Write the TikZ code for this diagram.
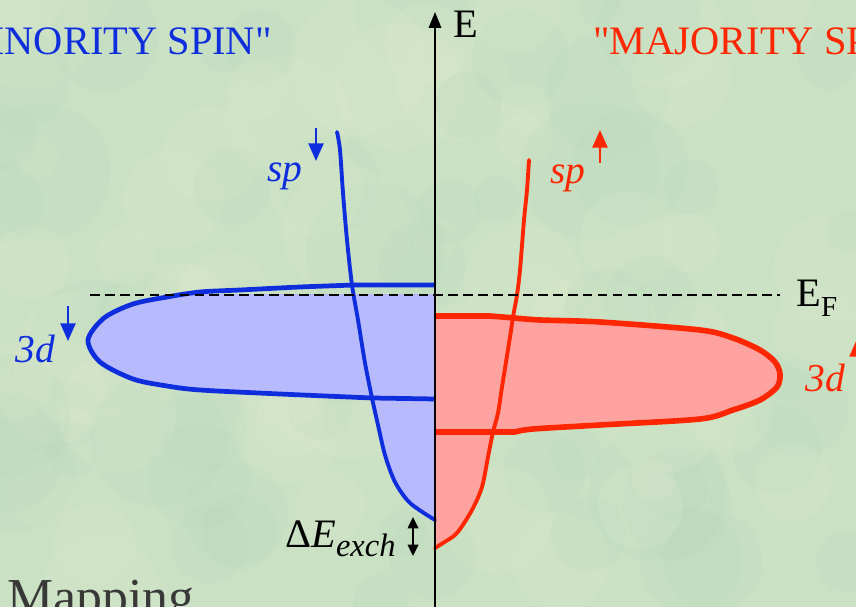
\documentclass[tikz,border=0pt]{standalone}
\usepackage{fontspec}
\setmainfont{Liberation Serif}
\usetikzlibrary{arrows.meta}

\definecolor{minblue}{RGB}{14,46,222}
\definecolor{minfill}{RGB}{184,186,255}
\definecolor{majred}{RGB}{255,38,0}
\definecolor{majfill}{RGB}{255,162,160}
\definecolor{bggreen}{RGB}{202,225,196}
\definecolor{bglight}{RGB}{226,236,206}
\definecolor{bgdark}{RGB}{178,214,188}

\begin{document}
\begin{tikzpicture}[x=0.02cm, y=-0.02cm,
    bandline/.style={line width=2.7pt, line join=round},
    spline/.style={line width=2.2pt, line cap=round, line join=round},
    spinarrow/.style={line width=1.3pt, -{Triangle[length=10pt,width=8.5pt]}},
    axisline/.style={line width=1.1pt, -{Triangle[length=9pt,width=7pt]}},
    fermi/.style={line width=1.1pt, dash pattern=on 5.5pt off 3pt},
    bigtext/.style={font=\fontsize{23}{27}\selectfont, inner sep=0pt},
    italtext/.style={font=\fontsize{22.5}{27}\selectfont\itshape, inner sep=0pt}]
        \useasboundingbox (0,0) rectangle (856,607);
        \clip (0,0) rectangle (856,607);

        % background
        \fill[bggreen] (0,0) rectangle (856,607);
        \pgfmathsetseed{11}
        \foreach \i in {1,...,60} {
            \fill[bglight, opacity=0.18] (856*rnd, 607*rnd) circle (20+50*rnd);
            \fill[bgdark, opacity=0.15] (856*rnd, 607*rnd) circle (20+50*rnd);
        }

        % occupied minority states (below E_F)
        \begin{scope}
            \clip (0,295) rectangle (435,607);
            \fill[minfill] (435,285) -- plot[smooth] coordinates {(355,285) (300,287) (240,290) (200,292) (167,297) (133,304) (104,318) (88,340) (100,362) (133,379) (167,386) (200,390) (280,394) (372,398)} -- (435,399) -- cycle;
            \fill[minfill] (435,398) -- plot[smooth] coordinates {(372,398) (378,425) (385,455) (395,482) (410,503) (435,520)} -- cycle;
        \end{scope}

        % occupied majority states
        \fill[majfill] (435,316) -- (490,316) -- plot[smooth] coordinates {(515,318) (540,320) (600,322) (700,330) (733,338) (760,350) (775,362) (780,374) (777,387) (760,400) (733,410) (700,419) (600,425) (533,429) (515,432)} -- (435,432) -- cycle;
        \fill[majfill] (435,432) -- plot[smooth] coordinates {(493,432) (488,457) (482,487) (472,510) (457,533) (443,543) (435,548)} -- cycle;

        % minority bands
        \draw[bandline, minblue] (435,285) -- plot[smooth] coordinates {(355,285) (300,287) (240,290) (200,292) (167,297) (133,304) (104,318) (88,340) (100,362) (133,379) (167,386) (200,390) (280,394) (372,398)} -- (435,399);
        \draw[spline, minblue] plot[smooth] coordinates {(337,132) (340,150) (343,193) (347,240) (352,285) (358,320) (365,363) (372,398) (378,425) (385,455) (395,482) (410,503) (435,520)};

        % majority bands
        \draw[bandline, majred, line width=3.2pt] (435,316) -- (490,316) -- plot[smooth] coordinates {(515,318) (540,320) (600,322) (700,330) (733,338) (760,350) (775,362) (780,374) (777,387) (760,400) (733,410) (700,419) (600,425) (533,429) (515,432)} -- (435,432);
        \draw[spline, majred] plot[smooth] coordinates {(529,160) (527,190) (524,220) (520,270) (517,295) (513,317) (510,337) (502,387) (498,413) (493,432) (488,457) (482,487) (472,510) (457,533) (443,543) (435,548)};

        % energy axis and Fermi level
        \node[bigtext, anchor=base west] (elabel) at (453,38) {E};
        \coordinate (axbot) at (435,607);
        \coordinate (axtop) at (435,12);
        \draw[axisline] (axbot) -- (axtop);
        \node[bigtext, anchor=base west] (eflabel) at (796,307) {E\raisebox{-5.5pt}{\fontsize{16.5}{17}\selectfont F}};
        \coordinate (efleft) at (90,295);
        \coordinate (efright) at (780,295);
        \draw[fermi] (efleft) -- (efright);

        % titles
        \node[bigtext, text=minblue, anchor=base east] (mintitle) at (272,55) {\textquotedbl MINORITY SPIN\textquotedbl};
        \node[bigtext, text=majred, anchor=base west] (majtitle) at (593,55) {\textquotedbl MAJORITY SPIN\textquotedbl};
        \node[font=\fontsize{29.5}{33}\selectfont, inner sep=0pt, text=black!78, anchor=base west] (maptitle) at (-23,615) {e\hspace{4pt}Mapping};

        % band labels with spin arrows
        \node[italtext, text=minblue, anchor=base west] (spmin) at (267,182) {sp};
        \coordinate (spminA) at (316,128);
        \coordinate (spminB) at (316,161);
        \draw[spinarrow, minblue] (spminA) -- (spminB);

        \node[italtext, text=majred, anchor=base west] (spmaj) at (550,184) {sp};
        \coordinate (spmajA) at (600,163);
        \coordinate (spmajB) at (600,130);
        \draw[spinarrow, majred] (spmajA) -- (spmajB);

        \node[italtext, text=minblue, anchor=base west] (dmin) at (15,363) {3d};
        \coordinate (dminA) at (68,306);
        \coordinate (dminB) at (68,341);
        \draw[spinarrow, minblue] (dminA) -- (dminB);

        \node[italtext, text=majred, anchor=base west] (dmaj) at (805,392) {3d};
        \coordinate (dmajA) at (857,374);
        \coordinate (dmajB) at (857,339);
        \draw[spinarrow, majred] (dmajA) -- (dmajB);

        % exchange splitting
        \node[font=\fontsize{23}{27}\selectfont, inner sep=0pt, anchor=base west] (exch) at (285,548) {Δ\textit{E}\raisebox{-5pt}{\fontsize{18.5}{20}\selectfont\itshape exch}};
        \coordinate (exchA) at (413,517);
        \coordinate (exchB) at (413,556);
        \draw[line width=1.2pt, {Triangle[length=6.5pt,width=6pt]}-{Triangle[length=6.5pt,width=6pt]}] (exchA) -- (exchB);
    \end{tikzpicture}
\end{document}
